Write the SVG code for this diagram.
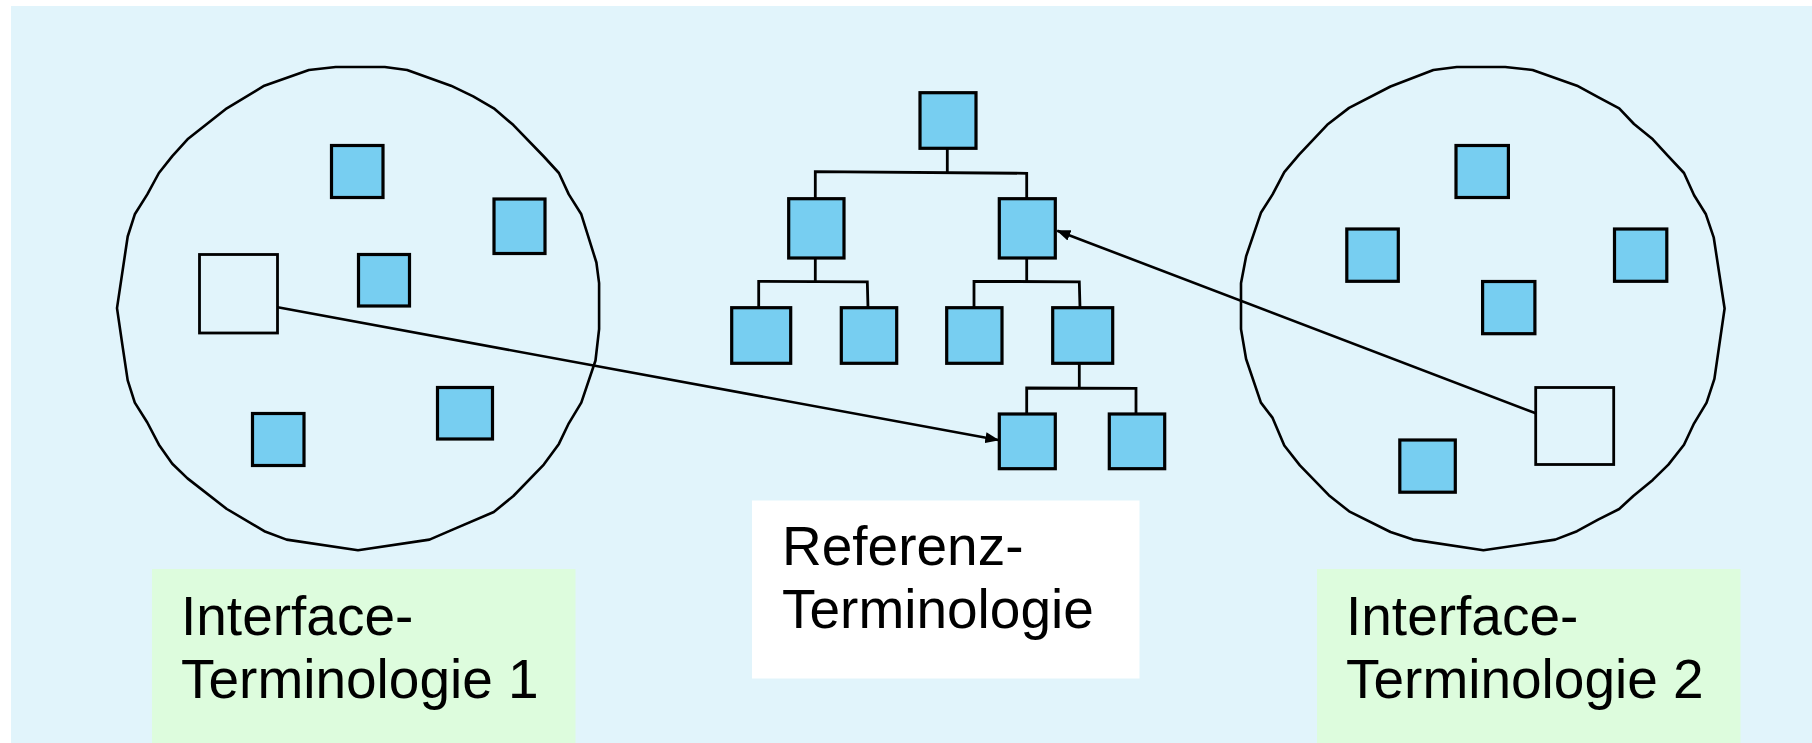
<svg xmlns="http://www.w3.org/2000/svg" width="1812" height="743" viewBox="0 0 1812 743">
<style>
.blob{fill:none;stroke:#000;stroke-width:2.6;stroke-linejoin:round}
.sq{fill:#77CEF1;stroke:#000;stroke-width:3.2}
.wsq{fill:none;stroke:#000;stroke-width:2.8}
.con{fill:none;stroke:#000;stroke-width:2.8}
.arr{fill:none;stroke:#000;stroke-width:2.6}
.lbl{font-family:"Liberation Sans",Arial,sans-serif;font-size:55px;fill:#000}
</style>
<defs>
<marker id="ah" markerWidth="14" markerHeight="11" refX="13" refY="5.5" orient="auto" markerUnits="userSpaceOnUse">
<path d="M0,0 L14,5.5 L0,11 Z" fill="#000"/>
</marker>
</defs>
<rect x="0" y="0" width="1812" height="743" fill="#fff"/>
<rect x="11" y="6" width="1801" height="737" fill="#E1F4FB"/>

<g id="terminology1">
<polygon class="blob" points="335.7,67 384.8,67 407.1,70 450.9,85.7 473.2,96.4 493.8,108.3 513.4,125.1 543.8,156.5 558.9,173 568.8,194.4 581.3,214.3 596.4,262.5 599.1,283.2 599.1,329.1 595.5,360.5 581.3,402.6 568.8,423.3 558.9,443.9 543.8,464.6 513.4,496 493.8,512 450.9,530.4 429.5,539.6 358,550.3 286.6,539.6 264.3,531.2 226.8,509 187.5,478.4 172.3,463.8 158.9,444.7 147.3,422.5 134.8,402.6 127.7,380.4 122.3,344.4 117,308.1 127.7,236.5 134.8,214.3 147.3,194.4 158.9,173 172.3,156.1 187.5,139.3 226.8,108.3 264.3,85.7 308.9,70"/>
<rect class="sq" x="331.5" y="145.5" width="51.5" height="52"/>
<rect class="sq" x="494" y="199" width="51" height="54.5"/>
<rect class="wsq" x="199.5" y="254.5" width="78" height="78.5"/>
<rect class="sq" x="358.5" y="254.5" width="51" height="51.5"/>
<rect class="sq" x="437.5" y="387.5" width="55" height="51.5"/>
<rect class="sq" x="252.5" y="413.5" width="51.5" height="52"/>
</g>

<g id="referenz-terminologie">
<rect class="sq" x="920" y="92.7" width="56" height="55.6"/>
<rect class="sq" x="788.7" y="198.7" width="55.3" height="59.3"/>
<rect class="sq" x="999.3" y="198.7" width="56" height="59.3"/>
<rect class="sq" x="731.7" y="307.7" width="59" height="55.6"/>
<rect class="sq" x="841.3" y="307.7" width="55.4" height="55.6"/>
<rect class="sq" x="946.7" y="307.7" width="55.3" height="55.6"/>
<rect class="sq" x="1052.7" y="307.7" width="60" height="55.6"/>
<rect class="sq" x="999.3" y="414" width="56" height="54.7"/>
<rect class="sq" x="1109.3" y="414" width="55.4" height="54.7"/>
</g>

<g id="terminology2">
<polygon class="blob" points="1456.8,67 1505.2,67 1532.6,70 1577,85.7 1598.1,97.2 1619.2,108.3 1634,124 1652.8,139.3 1666.8,154.6 1684,173 1694.1,195.2 1705.9,214.3 1713.7,237.3 1724.6,308.5 1714.4,378.9 1706.6,402.6 1694.1,423.3 1684,444.7 1668.4,464.6 1652.8,479.9 1633.3,496 1619.2,509 1598.1,519.7 1577,531.2 1555.2,539.6 1483.4,550.3 1413.1,539.6 1390.5,532 1349.1,511.3 1328.8,495.2 1299.9,465.4 1284.3,445.5 1272.6,417.9 1260.9,402.6 1246.1,359 1241,329.1 1241,283.2 1246.1,256.4 1260.9,212.8 1272.6,194.4 1284.3,172.2 1299.1,154.6 1327.2,124.8 1349.1,107.9 1390.5,86.5 1433.4,70"/>
<rect class="sq" x="1456" y="145.5" width="52.4" height="52"/>
<rect class="sq" x="1346.8" y="229" width="51.5" height="52.3"/>
<rect class="sq" x="1614.5" y="229" width="52.3" height="52.3"/>
<rect class="sq" x="1482.6" y="281.5" width="52.3" height="52.2"/>
<rect class="wsq" x="1535.7" y="387.5" width="78" height="77"/>
<rect class="sq" x="1399.8" y="440" width="55.5" height="52.2"/>
</g>

<g id="label1">
<rect x="152" y="569" width="423.5" height="174" fill="#DDFCDD"/>
<text class="lbl" x="181" y="635">Interface-</text>
<text class="lbl" x="181" y="698">Terminologie 1</text>
</g>
<g id="label-ref">
<rect x="752" y="500.5" width="387.5" height="178" fill="#fff"/>
<text class="lbl" x="782" y="565">Referenz-</text>
<text class="lbl" x="782" y="628">Terminologie</text>
</g>
<g id="label2">
<rect x="1317" y="569" width="423.5" height="174" fill="#DDFCDD"/>
<text class="lbl" x="1346" y="635">Interface-</text>
<text class="lbl" x="1346" y="698">Terminologie 2</text>
</g>

<g id="connectors">
<polyline class="con" points="947.3,148.3 947.3,172.7"/>
<polyline class="con" points="815.3,198.7 815.3,171.7 1026.7,173.3 1026.7,198.7"/>
<polyline class="con" points="815.3,258 815.3,281.3"/>
<polyline class="con" points="758.7,307.7 758.7,281.3 867.3,281.8 868,307.7"/>
<polyline class="con" points="1026.7,258 1026.7,281.3"/>
<polyline class="con" points="974,307.7 974,281.3 1079.3,281.8 1080,307.7"/>
<polyline class="con" points="1079.3,363.3 1079.3,388"/>
<polyline class="con" points="1026.7,414 1026.7,388 1136,388.3 1136,414"/>
<line class="arr" x1="277.7" y1="307.3" x2="998.3" y2="440" marker-end="url(#ah)"/>
<line class="arr" x1="1535.7" y1="413.3" x2="1057.3" y2="230.7" marker-end="url(#ah)"/>
</g>
</svg>
